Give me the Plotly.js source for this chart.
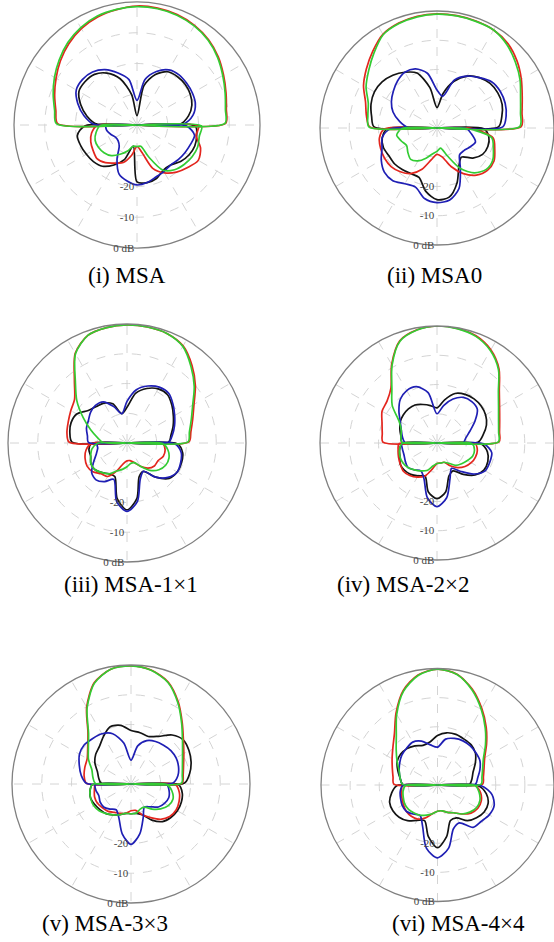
<!DOCTYPE html>
<html>
<head>
<meta charset="utf-8">
<script src="https://cdn.plot.ly/plotly-3.0.1.min.js"></script>
<style>
  html, body { margin: 0; padding: 0; background: #ffffff; }
  #chart { width: 554px; height: 942px; }
</style>
</head>
<body>
<div id="chart"></div>
<script>
// Angles (degrees, clockwise from top). The 90 / 270 points are the nulls that draw the horizontal line.
const THETA = [0,10,20,30,40,50,60,70,80,89,90,91,100,110,120,130,140,150,160,170,180,190,200,210,220,230,240,250,260,269,270,271,280,290,300,310,320,330,340,350,360];

const CAPTIONS = ["(i) MSA", "(ii) MSA0", "(iii) MSA-1\u00d71", "(iv) MSA-2\u00d72", "(v) MSA-3\u00d73", "(vi) MSA-4\u00d74"];
const RADIAL_TICKS = [-30, -20, -10, 0];
const RADIAL_TICKTEXT = ["", "-20", "-10", "0 dB"];

// ---- (i) MSA ----
const BLACK_I = [-37,-27,-22.5,-20,-19.5,-19.5,-20,-21,-23,-26,-40, -21,-20.3,-20,-20.5,-21.5,-23,-23,-21.5,-21,-21.5,-33,-28,-25,-22.5,-21.5,-21,-20.5,-20.3,-23, -40, -27,-23.5,-20.5,-18.2,-18,-18.5,-20.5,-24,-30,-37];
const RED_I   = [-1.3,-1.4,-1.8,-2.6,-3.8,-5.5,-7.5,-9.2,-10.5,-11.2,-40, -20,-20.5,-18,-17,-18.5,-20,-22,-25,-31,-33,-30,-27,-25.7,-24,-23,-23.5,-24,-25,-27, -40, -14.2,-13.2,-11.5,-9.6,-7.5,-5.5,-3.8,-2.6,-1.9,-1.3];
const BLUE_I  = [-32,-25,-21.5,-19.3,-18.7,-18.9,-19.2,-19.8,-21.5,-25,-40, -24,-21,-21.5,-22,-22.5,-23,-22.5,-22,-21,-20.5,-21.5,-23,-27,-31,-32,-32,-31,-30,-30, -40, -26,-22.5,-19.5,-17.2,-16.9,-17.5,-19.2,-22,-25,-32];
const GREEN_I = [-1.5,-1.6,-2.0,-2.8,-4.0,-5.8,-7.8,-9.5,-10.8,-11.4,-40, -19,-19.4,-19,-19.3,-20,-21,-23,-29,-33,-33,-33,-31,-29,-27,-26,-25.5,-25.5,-26.5,-28, -40, -13.8,-12.8,-11,-9,-7,-5,-3.4,-2.3,-1.8,-1.5];

// ---- (ii) MSA0 ----
const BLACK_II = [-33,-28,-23,-19.5,-17.5,-16.3,-16,-16.3,-17.5,-19,-40, -24,-22,-21.5,-22,-24,-27,-25,-20,-16,-15.5,-18,-22,-22,-21.5,-21,-21,-20.5,-21,-23, -40, -18.5,-17.3,-16,-15.3,-15.5,-16.5,-18,-20,-26,-33];
const RED_II   = [-1.0,-1.0,-1.1,-1.3,-2.3,-4.3,-6.7,-9.0,-10.5,-11.2,-40, -28,-20.5,-19,-17.5,-17.5,-19,-22,-26,-30,-31,-29,-25,-22,-20.5,-19.5,-19.3,-19.5,-20,-22, -40, -17,-15.5,-14,-11,-8.5,-5.8,-3,-1.8,-1.2,-1.0];
const BLUE_II  = [-27,-29,-22.5,-19.5,-17.5,-15.5,-15,-15.2,-16,-17.5,-40, -30,-28,-26,-27,-28,-28,-24,-18,-15,-14.5,-15.5,-18.5,-18,-16.5,-16.5,-18,-20,-21,-24, -40, -30,-27,-24,-22,-20.5,-19,-18,-18.5,-21,-27];
const GREEN_II = [-1.1,-1.1,-1.2,-1.3,-2.8,-5,-7.2,-9.6,-11,-11.7,-40, -30,-21,-19.5,-18,-18,-20,-24,-30,-33,-32,-31,-29,-27,-26,-27,-28,-27,-26,-28, -40, -16.7,-16,-15,-12,-9.5,-6.5,-3.2,-2,-1.4,-1.1];

// ---- (iii) MSA-1x1 ----
const BLACK_III = [-28,-23,-20.5,-19,-18.8,-20.3,-22,-23.5,-25,-26,-40, -23,-21,-20.5,-20.5,-21.5,-25,-29,-28,-21,-17.5,-21,-28,-28,-27,-26,-26,-27,-27,-28, -40, -21.5,-20.5,-20,-20.5,-23,-24,-24.5,-26,-30,-28];
const RED_III   = [-0.3,-0.4,-0.8,-2.3,-6.0,-10,-14,-16.5,-18.2,-19.2,-40, -28,-27,-27,-28,-28,-29,-31,-33,-34,-34,-33,-30,-27,-26.5,-25,-24.5,-25,-26,-28, -40, -20.5,-19.5,-19,-18.2,-17,-12.5,-5.2,-1.5,-0.6,-0.3];
const BLUE_III  = [-26,-21.8,-19.6,-18.3,-18.2,-19.8,-21.5,-23,-24.5,-26,-40, -24,-21.5,-20.8,-20.5,-22,-25,-29,-27,-20,-17,-20,-27,-25,-23.8,-24.5,-27,-29,-30,-30, -40, -27,-26.5,-25.5,-25,-24,-23.5,-24,-27,-30,-26];
const GREEN_III = [-0.3,-0.4,-0.8,-2.5,-6.5,-10.5,-14.5,-17,-18.7,-19.5,-40, -28,-26,-25,-25,-26,-28,-31,-33,-33,-32,-31,-30,-28,-27,-26,-26,-27,-28,-30, -40, -32,-30,-27,-23,-18,-13,-5.4,-1.5,-0.6,-0.3];

// ---- (iv) MSA-2x2 ----
const BLACK_IV = [-28,-25,-22,-20.8,-20.3,-20.3,-20.8,-22,-24,-26,-40, -25,-22.5,-21.5,-21.5,-23,-26,-29,-28,-23,-21,-23,-28,-27,-26,-25.5,-25.5,-26.5,-27,-28, -40, -28,-27.5,-26.5,-25.5,-25,-24.8,-25,-26,-27,-28];
const RED_IV   = [0,-0.2,-1,-3.2,-7,-12.2,-15.3,-17.2,-18.3,-18.8,-40, -27,-26,-26,-26.5,-27.5,-29,-31,-33,-33,-33,-31,-28,-26.5,-25.5,-25,-25.5,-26,-26.5,-27, -40, -21.5,-21,-20,-18.3,-17.7,-15.5,-9,-2.8,-0.7,0];
const BLUE_IV  = [-30,-27,-24,-22,-21.5,-22,-25,-28,-30,-31,-40, -24,-21,-20.8,-21,-23.5,-27.3,-30,-27,-21,-18.2,-21,-27,-29,-28,-27,-27.5,-28,-28,-28, -40, -29,-28,-27,-25.5,-23,-20.5,-19.3,-19.5,-22.5,-30];
const GREEN_IV = [0,-0.3,-1.2,-3.5,-7.3,-12.6,-15.7,-17.6,-18.6,-19,-40, -28,-27,-27,-28,-29,-30,-32,-33,-33,-33,-32,-30,-29,-28,-27,-26.5,-26.5,-27,-28, -40, -28,-27.5,-27,-25,-20,-16,-9.3,-3,-0.8,0];

// ---- (v) MSA-3x3 ----
const BLACK_V = [-22,-22.5,-23,-21.5,-18.5,-17,-17.5,-18.5,-20,-22,-40, -24,-22.5,-22,-22,-22.5,-23.5,-26,-29,-30,-30,-30,-29,-28,-27,-26.5,-26,-25.6,-26,-27, -40, -30,-29,-28,-26,-24.5,-23.5,-21.5,-19.5,-20,-22];
const RED_V   = [-0.3,-1.1,-3.5,-8.2,-13.2,-17,-19.5,-21.2,-22.2,-22.8,-40, -25,-23.5,-22.8,-22.5,-23,-24.5,-27,-29,-31,-31,-30,-29.5,-29,-28,-27.5,-27,-27,-27.5,-28, -40, -25,-24,-23.5,-23,-21,-17.5,-10.2,-3.8,-0.8,-0.3];
const BLUE_V  = [-32,-27,-24.5,-23.5,-23,-22.5,-22.5,-23,-24,-26,-40, -28,-27,-26.5,-27,-28,-30,-31,-28,-23,-19.7,-23,-28,-30,-29,-28,-28,-28.5,-28,-28, -40, -25,-23,-21.5,-20,-19.5,-20,-20.5,-22,-26,-32];
const GREEN_V = [-0.3,-1.2,-3.7,-8.5,-13.5,-17.4,-20,-21.6,-22.5,-23,-40, -28,-26,-25,-25.5,-27,-29,-31,-31,-30,-30,-30,-29,-28,-27,-26,-25.5,-25.6,-26,-27, -40, -28,-27,-26,-23.5,-21.3,-17.8,-10.5,-4,-0.8,-0.3];

// ---- (vi) MSA-4x4 ----
const BLACK_VI = [-23,-21.8,-21.5,-21.8,-22,-23,-25,-27,-28,-29,-40, -26,-23,-21.5,-21.5,-22.5,-24,-27,-27,-22,-18.5,-22,-27,-26,-24,-22.8,-22.3,-22.5,-24,-26, -40, -28,-27,-25.5,-24,-23.5,-23.7,-24.5,-25.5,-25,-23];
const RED_VI   = [-0.2,-1.4,-5,-9.6,-14,-18,-21.3,-23,-24,-24.5,-40, -27,-25,-24,-24,-25,-27,-29,-30,-31,-31,-30,-28,-26.5,-26,-26,-26.5,-27,-27.5,-28, -40, -25,-24.5,-23.5,-22,-20,-17,-11.5,-5.5,-1.6,-0.2];
const BLUE_VI  = [-27,-24,-23,-22.5,-22.5,-22.8,-23.2,-24.5,-26,-27,-40, -25,-21,-19.3,-19.5,-20.5,-21,-25,-24,-18,-15,-18,-25,-28,-27,-26,-26,-26.5,-27,-28, -40, -28,-27,-26,-25,-24,-23.5,-23,-24,-26,-27];
const GREEN_VI = [-0.2,-1.5,-5.3,-10,-14.5,-18.5,-21.8,-23.5,-24.5,-25,-40, -27,-25.5,-24.5,-24.5,-25.5,-27,-29,-30,-31,-31,-30,-29,-28,-27.5,-27,-27,-27.5,-28,-29, -40, -28,-27,-26,-24,-21.5,-18,-12,-5.8,-1.8,-0.2];

const PLOTS = [
  [BLACK_I, RED_I, BLUE_I, GREEN_I],
  [BLACK_II, RED_II, BLUE_II, GREEN_II],
  [BLACK_III, RED_III, BLUE_III, GREEN_III],
  [BLACK_IV, RED_IV, BLUE_IV, GREEN_IV],
  [BLACK_V, RED_V, BLUE_V, GREEN_V],
  [BLACK_VI, RED_VI, BLUE_VI, GREEN_VI]
];

// ---- layout (pixels): subplot centre / radius, caption position ----
const W = 554, H = 942;
const GEOM = [
  {cx:137, cy:125, r:123, tx:127, ty:276},
  {cx:437, cy:128, r:117, tx:434, ty:276},
  {cx:127, cy:443, r:119, tx:131, ty:584},
  {cx:437, cy:443, r:117, tx:403, ty:584},
  {cx:131, cy:784, r:119, tx:105, ty:923},
  {cx:440, cy:785, r:119, tx:458, ty:923}
];
const COLORS = ["#141414", "#e3261e", "#1f1fb4", "#33cc33"];
const NAMES = ["black", "red", "blue", "green"];

const data = [];
const layout = {
  width: W, height: H,
  margin: {l:0, r:0, t:0, b:0},
  paper_bgcolor: "#ffffff",
  showlegend: false,
  annotations: []
};

PLOTS.forEach((curves, k) => {
  const id = k === 0 ? "polar" : "polar" + (k + 1);
  const g = GEOM[k];
  layout[id] = {
    domain: {
      x: [Math.max(0,(g.cx - g.r) / W), Math.min(1,(g.cx + g.r) / W)],
      y: [1 - (g.cy + g.r) / H, 1 - (g.cy - g.r) / H]
    },
    bgcolor: "rgba(0,0,0,0)",
    angularaxis: {
      rotation: 90, direction: "clockwise", dtick: 30,
      showticklabels: false, ticks: "",
      showline: true, linecolor: "#808080", linewidth: 1.3,
      gridcolor: "#d4d4d4", griddash: "dash", gridwidth: 1
    },
    radialaxis: {
      range: [-40, 0], tickmode: "array", tickvals: RADIAL_TICKS, ticktext: RADIAL_TICKTEXT,
      angle: -90, tickangle: -90, showline: false, ticks: "",
      gridcolor: "#d4d4d4", griddash: "dash", gridwidth: 1,
      tickfont: {family: "Liberation Serif", size: 11, color: "#444444"}
    }
  };
  curves.forEach((r, j) => {
    data.push({
      type: "scatterpolar", mode: "lines", subplot: id, name: NAMES[j],
      theta: THETA, r: r,
      line: {color: COLORS[j], width: 1.7, shape: "spline", smoothing: 0.8},
      hoverinfo: "skip"
    });
  });
  layout.annotations.push({
    text: CAPTIONS[k], xref: "paper", yref: "paper",
    x: g.tx / W, y: 1 - g.ty / H, xanchor: "center", yanchor: "middle",
    showarrow: false,
    font: {family: "Liberation Serif, Times New Roman, serif", size: 23, color: "#000000"}
  });
});

Plotly.newPlot("chart", data, layout, {staticPlot: true, displayModeBar: false});
</script>
</body>
</html>
